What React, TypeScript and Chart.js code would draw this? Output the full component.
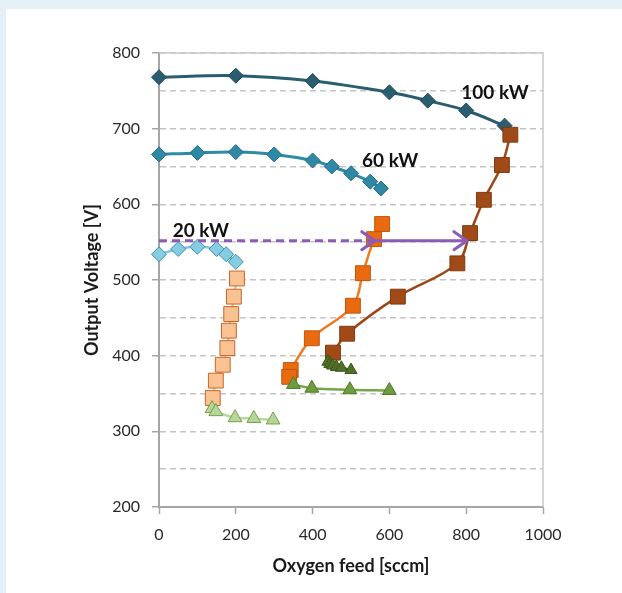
import React, { useEffect, useRef } from 'react';
import { Chart, registerables } from 'chart.js';

Chart.register(...registerables);

// ---- data ----
const x100Diamond = [0, 200, 400, 600, 700, 800, 900];
const y100Diamond = [768, 770, 763, 748, 737, 724, 704];

const x60Diamond = [0, 100, 200, 300, 400, 450, 500, 550, 578];
const y60Diamond = [666, 668, 669, 666, 658, 650, 641, 630, 621];

const x20Diamond = [0, 50, 100, 150, 175, 200];
const y20Diamond = [534, 541, 544, 541, 534, 524];

const x100Square = [915, 893, 846, 810, 777, 622, 490, 453];
const y100Square = [692, 652, 606, 562, 522, 478, 429, 404];

const x60Square = [581, 560, 531, 505, 398, 343, 339];
const y60Square = [574, 554, 509, 466, 423, 381, 372];

const x20Square = [203, 195, 188, 182, 178, 166, 148, 140];
const y20Square = [502, 478, 455, 433, 410, 388, 367, 344];

const x100Triangle = [440, 445, 452, 462, 475, 500];
const y100Triangle = [392, 389, 387, 385, 384, 381];

const x60Triangle = [350, 398, 497, 600];
const y60Triangle = [362, 357, 355, 354];

const x20Triangle = [138, 148, 198, 247, 297];
const y20Triangle = [330, 326, 318, 317, 315];

// arrows: x start -> end at arrowY
const arrowDashedX = [0, 562];
const arrowSolidX = [562, 802];
const arrowY = 552;

// series labels
const labelTexts = ['100 kW', '60 kW', '20 kW'];
const labelX = [875, 602, 109];
const labelY = [747, 657, 565];

const xTickStep = 200;
const yTickStep = 50;
const yLabelStep = 100;

const pts = (xs: number[], ys: number[]) => xs.map((x, i) => ({ x, y: ys[i] }));

const FONT = 'Lato, "Open Sans", "Noto Sans", sans-serif';

function series(label: string, xs: number[], ys: number[], o: any) {
  return {
    label,
    data: pts(xs, ys),
    showLine: true,
    clip: false,
    borderColor: o.line,
    borderWidth: o.lw ?? 2.5,
    tension: 0.35,
    pointStyle: o.style,
    pointRadius: o.r,
    pointHoverRadius: o.r,
    pointBackgroundColor: o.fill,
    pointBorderColor: o.stroke,
    pointBorderWidth: 1,
  };
}

const decorations = {
  id: 'decorations',
  beforeDatasetsDraw(chart: any) {
    const { ctx, chartArea } = chart;
    ctx.save();
    ctx.strokeStyle = '#c9c9c9';
    ctx.lineWidth = 1.5;
    ctx.beginPath();
    ctx.moveTo(chartArea.left, chartArea.top);
    ctx.lineTo(chartArea.right, chartArea.top);
    ctx.lineTo(chartArea.right, chartArea.bottom);
    ctx.stroke();
    ctx.restore();
  },
  afterDatasetsDraw(chart: any) {
    const { ctx } = chart;
    const xs = chart.scales.x;
    const ys = chart.scales.y;
    const py = ys.getPixelForValue(arrowY);
    const purple = '#8b5bb6';
    const head = (tip: number) => {
      ctx.setLineDash([]);
      ctx.beginPath();
      ctx.moveTo(tip - 13, py - 9);
      ctx.lineTo(tip, py);
      ctx.lineTo(tip - 13, py + 9);
      ctx.stroke();
    };
    ctx.save();
    ctx.strokeStyle = purple;
    ctx.lineWidth = 3;
    ctx.lineJoin = 'round';
    const d0 = xs.getPixelForValue(arrowDashedX[0]);
    const d1 = xs.getPixelForValue(arrowDashedX[1]);
    ctx.lineCap = 'butt';
    ctx.setLineDash([8, 5]);
    ctx.beginPath();
    ctx.moveTo(d0, py);
    ctx.lineTo(d1 - 2, py);
    ctx.stroke();
    ctx.lineCap = 'round';
    head(d1);
    const s0 = xs.getPixelForValue(arrowSolidX[0]);
    const s1 = xs.getPixelForValue(arrowSolidX[1]);
    ctx.setLineDash([]);
    ctx.beginPath();
    ctx.moveTo(s0, py);
    ctx.lineTo(s1 - 1, py);
    ctx.stroke();
    head(s1);
    ctx.restore();

    ctx.save();
    ctx.font = `bold 19px ${FONT}`;
    ctx.fillStyle = '#111111';
    ctx.textAlign = 'center';
    ctx.textBaseline = 'middle';
    labelTexts.forEach((t, i) => {
      ctx.fillText(t, xs.getPixelForValue(labelX[i]), ys.getPixelForValue(labelY[i]));
    });
    ctx.restore();
  },
};

export default function App() {
  const ref = useRef<HTMLCanvasElement | null>(null);

  useEffect(() => {
    if (!ref.current) return;
    const chart = new Chart(ref.current, {
      type: 'scatter',
      data: {
        datasets: [
          series('100 kW triangles', x100Triangle, y100Triangle, { line: '#4c6b24', style: 'triangle', r: 7, fill: '#4f7026', stroke: '#3b561b' }),
          series('60 kW triangles', x60Triangle, y60Triangle, { line: '#76a746', style: 'triangle', r: 8, fill: '#6f9c3e', stroke: '#4f7a2a' }),
          series('20 kW triangles', x20Triangle, y20Triangle, { line: '#b8d99c', style: 'triangle', r: 8, fill: '#b5d698', stroke: '#75a04c' }),
          series('100 kW squares', x100Square, y100Square, { line: '#9c4717', style: 'rect', r: 10.5, fill: '#a04a18', stroke: '#7e3a10' }),
          series('60 kW squares', x60Square, y60Square, { line: '#f07a1e', style: 'rect', r: 10.5, fill: '#ea6a10', stroke: '#c2560c' }),
          series('20 kW squares', x20Square, y20Square, { line: '#f7b98a', style: 'rect', r: 10.5, fill: '#f9c293', stroke: '#c8662a' }),
          series('100 kW diamonds', x100Diamond, y100Diamond, { line: '#2a5d70', style: 'rectRot', r: 7.5, fill: '#2a5d70', stroke: '#1e4b5c', lw: 3 }),
          series('60 kW diamonds', x60Diamond, y60Diamond, { line: '#2f8aa6', style: 'rectRot', r: 7.5, fill: '#2f89a5', stroke: '#206d85', lw: 3 }),
          series('20 kW diamonds', x20Diamond, y20Diamond, { line: '#7fc7de', style: 'rectRot', r: 7.5, fill: '#86cce2', stroke: '#3f8ea8', lw: 2.5 }),
        ],
      },
      options: {
        animation: false,
        responsive: false,
        maintainAspectRatio: false,
        events: [],
        layout: { padding: { left: 0, top: 53, right: 79, bottom: 0 } },
        plugins: {
          legend: { display: false },
          tooltip: { enabled: false },
        },
        scales: {
          x: {
            type: 'linear',
            min: 0,
            max: 1000,
            ticks: {
              stepSize: xTickStep,
              callback: (v: any) => String(v),
              font: { family: FONT, size: 16 },
              color: '#2a2a2a',
              padding: 11,
            },
            grid: {
              drawOnChartArea: false,
              tickLength: 7,
              tickColor: '#a6a6a6',
              tickWidth: 1.5,
            },
            border: { display: true, color: '#a6a6a6', width: 2 },
            title: {
              display: true,
              text: 'Oxygen feed [sccm]',
              font: { family: FONT, size: 18, weight: 'bold' },
              color: '#1a1a1a',
              padding: { top: 0, bottom: 16 },
            },
            afterFit: (s: any) => {
              s.height = 86;
            },
          },
          y: {
            type: 'linear',
            min: 200,
            max: 800,
            ticks: {
              stepSize: yTickStep,
              autoSkip: false,
              callback: (v: any) => (Number(v) % yLabelStep === 0 ? String(v) : ''),
              font: { family: FONT, size: 16 },
              color: '#2a2a2a',
              padding: 12,
            },
            grid: {
              color: (c: any) => (c.tick && c.tick.value === 200 ? 'rgba(0,0,0,0)' : '#c4c4c4'),
              lineWidth: 1.5,
              tickLength: 7,
              tickColor: (c: any) => (c.tick && c.tick.value % yLabelStep === 0 ? '#a6a6a6' : 'rgba(0,0,0,0)'),
              tickWidth: 1.5,
            },
            border: { display: true, color: '#a6a6a6', width: 2, dash: [6, 4] },
            title: {
              display: true,
              text: 'Output Voltage [V]',
              font: { family: FONT, size: 18, weight: 'bold' },
              color: '#1a1a1a',
              padding: { top: 81, bottom: 0 },
            },
            afterFit: (s: any) => {
              s.width = 159;
            },
          },
        },
      },
      plugins: [decorations],
    } as any);
    return () => chart.destroy();
  }, []);

  return (
    <div style={{ position: 'absolute', left: 0, top: 0, width: 622, height: 593, background: '#e5f0f7', overflow: 'hidden' }}>
      <div style={{ position: 'absolute', left: 6, top: 9, right: 0, bottom: 0, background: '#ffffff' }} />
      <canvas ref={ref} width={622} height={593} style={{ position: 'absolute', left: 0, top: 0, display: 'block' }} />
    </div>
  );
}
